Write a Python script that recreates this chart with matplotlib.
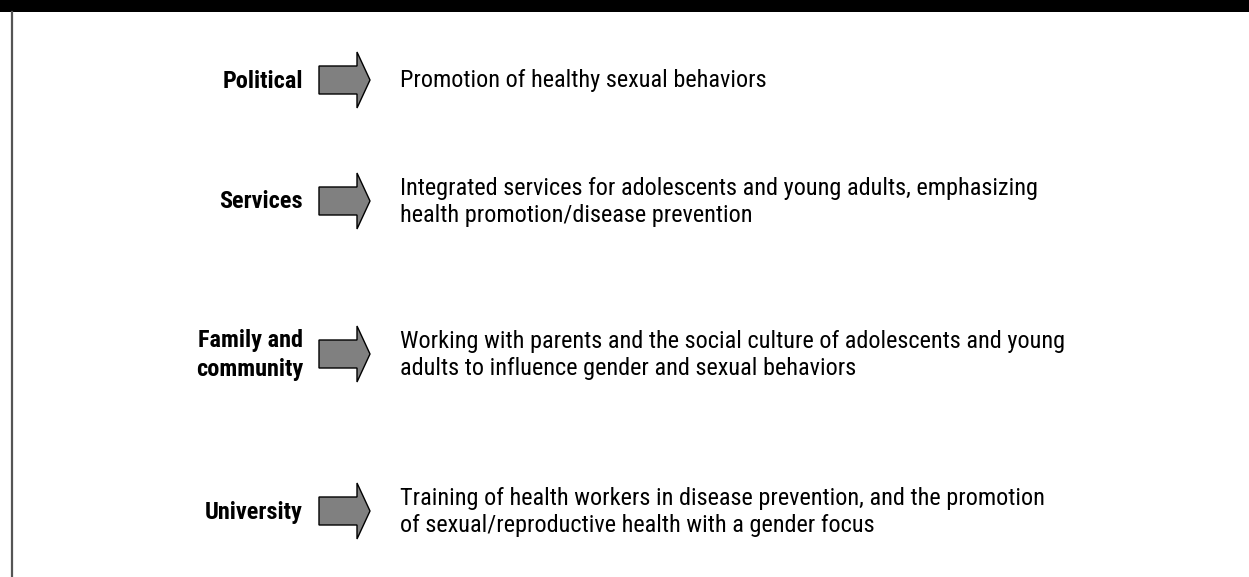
import matplotlib.pyplot as plt
from matplotlib.patches import Polygon, Rectangle
from matplotlib import font_manager

# rows of the diagram
categories = ["Political", "Services", "Family and\ncommunity", "University"]
descriptions = [
    "Promotion of healthy sexual behaviors",
    "Integrated services for adolescents and young adults, emphasizing\nhealth promotion/disease prevention",
    "Working with parents and the social culture of adolescents and young\nadults to influence gender and sexual behaviors",
    "Training of health workers in disease prevention, and the promotion\nof sexual/reproductive health with a gender focus",
]

# layout (pixels)
row_y = [80, 201, 354, 511]

names = {f.name for f in font_manager.fontManager.ttflist}
fam = "Roboto"
for cand in ["Liberation Sans Narrow", "Roboto Condensed", "Open Sans Condensed", "Arial Narrow"]:
    if cand in names:
        fam = cand
        break

fig = plt.figure(figsize=(12.49, 5.77), dpi=100)
ax = fig.add_axes([0, 0, 1, 1])
ax.set_xlim(0, 1249)
ax.set_ylim(577, 0)
ax.axis("off")

# top bar and left frame line
ax.add_patch(Rectangle((0, 0), 1249, 12, color="black", lw=0))
ax.plot([12.5, 12.5], [12, 577], color="#555555", lw=1.6)

for cat, desc, y in zip(categories, descriptions, row_y):
    ax.text(303, y + 1, cat, ha="right", va="center", fontsize=17.5, fontweight="bold",
            family=fam, linespacing=1.3)
    arrow = [(319, y - 14), (357, y - 14), (357, y - 28), (370, y),
             (357, y + 28), (357, y + 14), (319, y + 14)]
    ax.add_patch(Polygon(arrow, closed=True, facecolor="#808080", edgecolor="black", lw=1))
    ax.text(400, y + 1, desc, ha="left", va="center", fontsize=17.5, family=fam,
            linespacing=1.25)

fig.savefig("out.png", dpi=100)
